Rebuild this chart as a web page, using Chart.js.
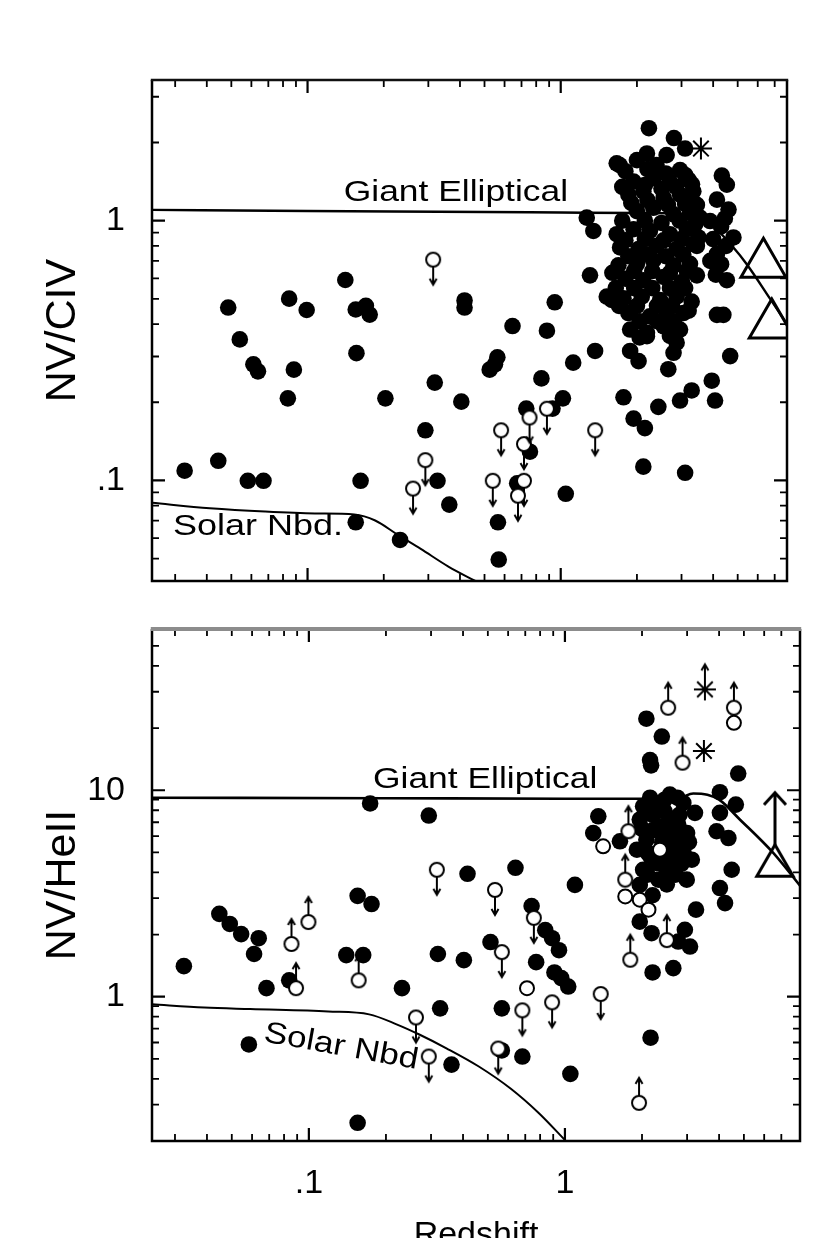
<!DOCTYPE html>
<html>
<head>
<meta charset="utf-8">
<script src="https://cdn.jsdelivr.net/npm/chart.js@4.4.1/dist/chart.umd.min.js"></script>
<style>
  html, body { margin: 0; padding: 0; background: #fff; overflow: hidden; }
  #wrap { position: relative; width: 830px; height: 1238px; overflow: hidden; }
  #c1 { position: absolute; left: 0; top: 0; }
  #c2 { position: absolute; left: 0; top: 610px; }
</style>
</head>
<body>
<div id="wrap">
  <canvas id="c1" width="830" height="610"></canvas>
  <canvas id="c2" width="830" height="660"></canvas>
</div>
<script>
// ---------- top panel : NV/CIV ----------
const topDotsX = [
  0.0327, 0.0444, 0.0581, 0.067, 0.0486, 0.054, 0.0611, 0.0637, 0.0846, 0.0992, 0.0883, 0.0836,
  0.141, 0.155, 0.170, 0.176, 0.156, 0.162, 0.155, 0.232, 0.203, 0.318, 0.292, 0.326, 0.363,
  0.405, 0.417, 0.417, 0.645, 0.524, 0.562, 0.55, 0.565, 0.569, 0.673, 0.756, 0.731, 0.839,
  0.882, 0.947, 0.928, 1.02, 1.047,
  2.23, 2.80, 3.10, 1.71, 2.19, 2.62, 4.33, 4.53, 4.14, 4.60, 3.89, 4.81, 1.267, 1.346, 1.305,
  4.14, 4.53, 4.14, 4.39, 1.59, 1.367, 1.12, 1.88, 2.03, 2.66, 2.79, 4.67, 1.77, 1.94, 2.15,
  2.43, 2.96, 3.29, 3.95, 4.07, 2.12, 3.10,
  1.664, 2.0, 2.39, 2.96, 1.94, 2.32, 2.70, 3.20, 1.85, 2.12, 2.55, 2.96, 3.34,
  2.0, 2.32, 2.79, 3.24, 3.55, 1.664, 1.94, 2.25, 2.70, 3.15, 3.50,
  1.716, 2.03, 2.39, 2.87, 3.34, 1.69, 2.0, 2.32, 2.79, 3.24,
  1.80, 2.12, 2.55, 3.01, 3.45, 1.52, 1.77, 2.09, 2.47, 2.87, 3.29,
  1.85, 2.25, 2.62, 3.05, 1.88, 2.19, 2.55, 2.96, 2.87, 2.19,
  1.80, 2.20, 2.60, 3.10, 1.75, 2.15, 2.50, 2.85, 3.30, 1.90, 2.20, 2.65, 3.10, 3.45,
  1.75, 2.15, 2.50, 2.95, 3.40, 1.80, 2.15, 2.55, 3.00, 3.45, 1.85, 2.20, 2.60, 3.05,
  1.60, 1.95, 2.30, 2.70, 3.15, 1.65, 1.95, 2.30, 2.70, 3.10, 1.70, 2.00, 2.40, 2.75, 3.20,
  2.05, 2.40, 2.80, 2.05, 2.70,
  4.30, 4.50, 4.00, 4.30, 4.10, 3.90, 4.45
];
const topDotsY = [
  0.109, 0.119, 0.0997, 0.0997, 0.463, 0.349, 0.280, 0.263, 0.501, 0.453, 0.267, 0.207,
  0.591, 0.455, 0.47, 0.435, 0.309, 0.0997, 0.069, 0.059, 0.207, 0.238, 0.156, 0.0997, 0.0807,
  0.201, 0.493, 0.463, 0.393, 0.267, 0.298, 0.28, 0.069, 0.0496, 0.0975, 0.129, 0.189, 0.247,
  0.377, 0.485, 0.189, 0.207, 0.0888,
  2.27, 2.08, 1.895, 1.637, 1.814, 1.788, 1.492, 1.375, 1.205, 1.104, 0.997, 0.862, 1.027, 0.913, 0.616,
  0.745, 0.59, 0.434, 0.434, 0.495, 0.315, 0.284, 0.315, 0.288, 0.268, 0.31, 0.301, 0.209, 0.173, 0.159,
  0.192, 0.203, 0.222, 0.242, 0.203, 0.113, 0.107,
  1.662, 1.711, 1.637, 1.567, 1.415, 1.457, 1.415, 1.436, 1.259, 1.297, 1.223, 1.259, 1.297,
  1.088, 1.121, 1.057, 1.073, 1.027, 0.887, 0.927, 0.913, 0.887, 0.927, 0.862,
  0.789, 0.778, 0.801, 0.778, 0.813, 0.673, 0.682, 0.703, 0.673, 0.682,
  0.598, 0.590, 0.607, 0.581, 0.616, 0.51, 0.502, 0.51, 0.495, 0.51, 0.488,
  0.441, 0.428, 0.447, 0.441, 0.381, 0.37, 0.392, 0.381, 0.339, 0.359,
  1.55, 1.58, 1.52, 1.50, 1.35, 1.37, 1.33, 1.35, 1.38, 1.17, 1.20, 1.15, 1.16, 1.15,
  1.00, 1.00, 0.98, 1.00, 0.97, 0.84, 0.85, 0.84, 0.85, 0.80, 0.73, 0.74, 0.73, 0.74,
  0.63, 0.64, 0.64, 0.63, 0.64, 0.55, 0.55, 0.55, 0.55, 0.55, 0.47, 0.47, 0.47, 0.47, 0.45,
  0.41, 0.41, 0.41, 0.355, 0.36,
  0.95, 0.80, 0.85, 0.68, 0.62, 0.70, 1.02
];
// upper limits (open circle, arrow down)
const topUpperX = [0.3135, 0.539, 0.5815, 0.292, 0.261, 0.716, 0.716, 0.678, 0.753, 0.882, 1.368];
const topUpperY = [0.708, 0.0997, 0.156, 0.1197, 0.093, 0.138, 0.0997, 0.0873, 0.1746, 0.1888, 0.156];
const topStarX = [3.58];
const topStarY = [1.895];
const topTriX = [6.32, 6.82];
const topTriY = [0.679, 0.397];
const topGiantX = [0.0243, 0.1, 0.5, 1.0, 2.0, 3.0, 4.0, 4.8, 5.43, 6.72, 7.83];
const topGiantY = [1.10, 1.09, 1.08, 1.075, 1.07, 1.06, 0.95, 0.79, 0.68, 0.50, 0.40];
const topSolarX = [0.0243, 0.0411, 0.0679, 0.107, 0.153, 0.185, 0.227, 0.28, 0.36, 0.46];
const topSolarY = [0.082, 0.0782, 0.0759, 0.0746, 0.0739, 0.0701, 0.0618, 0.0545, 0.0466, 0.041];

// ---------- bottom panel : NV/HeII ----------
const botDotsX = [
  0.0325, 0.0447, 0.0491, 0.0544, 0.0637, 0.0611, 0.0683, 0.0838, 0.0583, 0.155, 0.14, 0.163,
  0.155, 0.1757, 0.1735, 0.294, 0.231, 0.319, 0.3256, 0.3606, 0.4165, 0.403, 0.641, 0.512,
  0.567, 0.567, 0.682, 0.741, 0.772, 0.838, 0.891, 0.948, 0.91, 0.968, 1.03, 1.05, 2.16, 2.20, 2.65,
  2.08, 2.39, 2.15, 2.17, 4.75, 4.03, 4.65, 4.03, 3.91, 4.35, 4.48, 4.03, 4.22, 3.25, 1.094,
  2.57, 2.28, 2.02, 2.90, 3.22, 1.96, 2.35, 2.77, 2.08, 1.91, 2.49, 2.90, 3.13, 2.28, 2.02, 2.57,
  2.99, 2.32, 1.96, 1.96, 2.18, 2.94, 3.08, 2.77, 1.35, 1.29, 1.64, 2.2, 2.6, 2.45, 2.7, 2.15,
  2.15, 2.45, 2.75, 2.10, 2.45, 2.80, 3.00, 2.60, 2.20, 2.00, 2.40, 2.75, 3.05, 2.10, 2.40,
  2.85, 2.45, 2.70, 2.10, 2.50, 2.20
];
const botDotsY = [
  1.406, 2.52, 2.25, 2.01, 1.92, 1.61, 1.10, 1.20, 0.587, 0.245, 1.59, 1.59,
  3.08, 2.81, 8.63, 7.54, 1.10, 1.61, 0.878, 0.469, 3.94, 1.503, 4.21, 1.84,
  0.878, 0.549, 0.513, 2.75, 1.47, 2.1, 1.92, 1.68, 1.31, 1.23, 1.12, 0.423, 0.633, 1.31, 1.375,
  22.2, 18.2, 14.0, 13.2, 12.05, 9.78, 8.52, 7.77, 6.33, 5.87, 4.12, 3.36, 2.84, 2.64, 3.48,
  9.53, 8.68, 8.36, 8.68, 7.77, 7.21, 6.69, 6.82, 5.76, 5.15, 5.35, 5.06, 4.61, 4.44, 4.12, 4.12,
  3.69, 3.69, 3.48, 2.31, 2.03, 2.11, 1.75, 1.85, 7.48, 6.2, 5.66, 7.6, 7.3, 6.0, 4.8, 4.8,
  9.2, 9.0, 9.2, 7.8, 7.9, 7.6, 6.2, 6.3, 6.4, 6.5, 5.6, 5.7, 5.6, 5.0, 4.9,
  4.4, 4.3, 3.9, 3.9, 3.5, 3.1
];
const botUpperX = [0.316, 0.533, 0.567, 0.756, 0.682, 0.891, 1.38, 0.262, 0.294, 0.549];
const botUpperY = [4.12, 3.29, 1.645, 2.41, 0.859, 0.939, 1.03, 0.793, 0.513, 0.561];
const botOpenX = [0.711, 1.41, 1.72, 1.96, 2.12, 2.35, 4.57];
const botOpenY = [1.10, 5.35, 3.06, 2.95, 2.64, 5.15, 21.2];
// lower limits (open circle, arrow up)
const botLowerX = [2.53, 4.57, 2.88, 1.77, 1.72, 2.50, 1.80, 1.947, 0.0996, 0.0855, 0.0891, 0.1565];
const botLowerY = [25.1, 25.1, 13.6, 6.33, 3.69, 1.88, 1.51, 0.306, 2.30, 1.80, 1.10, 1.20];
const botStarX = [3.49];
const botStarY = [15.5];
const botStarLowX = [3.52];
const botStarLowY = [30.8];
const botTriX = [6.61];
const botTriY = [4.31];
const botGiantX = [0.0244, 0.2, 1.0, 2.0, 2.8, 3.17, 3.6, 4.0, 4.83, 6.51, 8.28];
const botGiantY = [9.2, 9.15, 9.1, 9.1, 9.2, 9.64, 9.5, 9.0, 7.2, 4.97, 3.45];
const botSolarX = [0.0244, 0.039, 0.059, 0.119, 0.172, 0.22, 0.27, 0.346, 0.461, 0.615, 0.788, 1.008];
const botSolarY = [0.918, 0.886, 0.871, 0.848, 0.821, 0.735, 0.656, 0.561, 0.459, 0.358, 0.274, 0.2];

// ---------- ticks ----------
const xTicks = [0.03, 0.04, 0.05, 0.06, 0.07, 0.08, 0.09, 0.1, 0.2, 0.3, 0.4, 0.5, 0.6, 0.7, 0.8, 0.9, 1, 2, 3, 4, 5, 6, 7];
const topYTicks = [0.05, 0.06, 0.07, 0.08, 0.09, 0.1, 0.2, 0.3, 0.4, 0.5, 0.6, 0.7, 0.8, 0.9, 1, 2, 3];
const botYTicks = [0.3, 0.4, 0.5, 0.6, 0.7, 0.8, 0.9, 1, 2, 3, 4, 5, 6, 7, 8, 9, 10, 20, 30, 40, 50];
const tickLabels = {0.1: '.1', 1: '1', 10: '10'};

const FONT = "'Liberation Sans', Arial, Helvetica, sans-serif";

const xy = (xs, ys) => xs.map((v, i) => ({x: v, y: ys[i]}));
const isDecade = v => { const l = Math.log10(v); return Math.abs(l - Math.round(l)) < 1e-6; };

// little marker pictures
function limitMark(dir, star) {
  // dir 1 = arrow down, -1 = arrow up
  const c = document.createElement('canvas');
  c.width = 30; c.height = 70;
  const g = c.getContext('2d');
  const cx = 15, cy = 35;
  g.strokeStyle = '#000';
  g.lineWidth = 2;
  let r0 = 7;
  if (star) {
    r0 = 0;
    for (let k = 0; k < 4; k++) {
      const a = k * Math.PI / 4;
      g.beginPath();
      g.moveTo(cx - 11 * Math.cos(a), cy - 11 * Math.sin(a));
      g.lineTo(cx + 11 * Math.cos(a), cy + 11 * Math.sin(a));
      g.stroke();
    }
  } else {
    g.fillStyle = '#fff';
    g.beginPath();
    g.arc(cx, cy, 7, 0, 2 * Math.PI);
    g.fill();
    g.stroke();
  }
  const tip = cy + dir * 25;
  g.beginPath();
  g.moveTo(cx, cy + dir * r0);
  g.lineTo(cx, tip);
  g.stroke();
  g.beginPath();
  g.moveTo(cx - 3.5, tip - dir * 6);
  g.lineTo(cx, tip);
  g.lineTo(cx + 3.5, tip - dir * 6);
  g.stroke();
  return c;
}

function triArrow() {
  const c = document.createElement('canvas');
  c.width = 52; c.height = 160;
  const g = c.getContext('2d');
  const cx = 26, cy = 80, r = 21;
  g.strokeStyle = '#000';
  g.lineWidth = 3;
  g.beginPath();
  g.moveTo(cx, cy - r);
  g.lineTo(cx + r * Math.sin(Math.PI / 3), cy + r / 2);
  g.lineTo(cx - r * Math.sin(Math.PI / 3), cy + r / 2);
  g.closePath();
  g.stroke();
  const tip = cy - r - 52;
  g.beginPath();
  g.moveTo(cx, cy - r);
  g.lineTo(cx, tip);
  g.moveTo(cx - 11, tip + 12);
  g.lineTo(cx, tip);
  g.lineTo(cx + 11, tip + 12);
  g.stroke();
  return c;
}

const downMark = limitMark(1, false);
const upMark = limitMark(-1, false);
const starUpMark = limitMark(-1, true);

function dots(xs, ys) {
  return {data: xy(xs, ys), pointStyle: 'circle', pointRadius: 8.3, backgroundColor: '#000', borderWidth: 0, order: 2};
}
function openDots(xs, ys) {
  return {data: xy(xs, ys), pointStyle: 'circle', pointRadius: 7, backgroundColor: '#fff', borderColor: '#000', borderWidth: 2, order: 1};
}
function marks(xs, ys, img) {
  return {data: xy(xs, ys), pointStyle: img, pointRadius: 10, backgroundColor: '#000', borderColor: '#000', order: 1};
}
function curve(xs, ys, w) {
  return {data: xy(xs, ys), showLine: true, pointRadius: 0, borderColor: '#000', backgroundColor: '#000',
          borderWidth: w, cubicInterpolationMode: 'monotone', order: 5};
}

function framePlugin(topColor, topWidth) {
  return {
    id: 'frame',
    afterDatasetsDraw(chart) {
      const {ctx, chartArea: a, scales: {x, y}} = chart;
      ctx.save();
      ctx.strokeStyle = '#000';
      x.ticks.forEach(t => {
        const p = x.getPixelForValue(t.value);
        const big = isDecade(t.value), len = big ? 13 : 7;
        ctx.lineWidth = big ? 2.2 : 1.8;
        ctx.beginPath();
        ctx.moveTo(p, a.bottom); ctx.lineTo(p, a.bottom - len);
        ctx.moveTo(p, a.top); ctx.lineTo(p, a.top + len);
        ctx.stroke();
      });
      y.ticks.forEach(t => {
        const p = y.getPixelForValue(t.value);
        const big = isDecade(t.value), len = big ? 13 : 7;
        ctx.lineWidth = big ? 2.2 : 1.8;
        ctx.beginPath();
        ctx.moveTo(a.left, p); ctx.lineTo(a.left + len, p);
        ctx.moveTo(a.right, p); ctx.lineTo(a.right - len, p);
        ctx.stroke();
      });
      ctx.lineWidth = 2.5;
      ctx.beginPath();
      ctx.moveTo(a.left, a.top);
      ctx.lineTo(a.left, a.bottom);
      ctx.lineTo(a.right, a.bottom);
      ctx.lineTo(a.right, a.top);
      ctx.stroke();
      ctx.strokeStyle = topColor;
      ctx.lineWidth = topWidth;
      ctx.beginPath();
      ctx.moveTo(a.left - 1.2, a.top);
      ctx.lineTo(a.right + 1.2, a.top);
      ctx.stroke();
      ctx.restore();
    }
  };
}

function notesPlugin(items) {
  return {
    id: 'notes',
    afterDatasetsDraw(chart) {
      const {ctx, scales: {x, y}} = chart;
      items.forEach(it => {
        ctx.save();
        ctx.translate(x.getPixelForValue(it.x), y.getPixelForValue(it.y));
        ctx.rotate((it.angle || 0) * Math.PI / 180);
        ctx.scale(it.stretch, 1);
        ctx.font = it.size + 'px ' + FONT;
        ctx.fillStyle = '#000';
        ctx.textBaseline = 'alphabetic';
        ctx.textAlign = 'left';
        ctx.fillText(it.text, 0, 0);
        ctx.restore();
      });
    }
  };
}

// gap between labels and frame comes from invisible tick marks,
// so it is not added to the chart-area padding
function logAxis(min, max, values, gap, extra) {
  return Object.assign({
    type: 'logarithmic',
    min: min,
    max: max,
    afterBuildTicks: s => { s.ticks = values.map(v => ({value: v})); },
    grid: {display: true, drawOnChartArea: false, drawTicks: true, tickLength: gap, tickColor: 'rgba(0,0,0,0)'},
    border: {display: false},
    ticks: {
      autoSkip: false,
      maxRotation: 0,
      padding: 0,
      color: '#000',
      font: {family: FONT, size: 34, lineHeight: 1},
      callback: v => tickLabels[v] || ''
    }
  }, extra);
}

function panel(id, cfg) {
  const xAxis = logAxis(cfg.xMin, cfg.xMax, xTicks, 26, {afterFit: s => { s.height = cfg.xHeight; }});
  xAxis.ticks.display = cfg.xLabels;
  if (cfg.xTitle) {
    xAxis.title = {display: true, text: cfg.xTitle, color: '#000', font: {family: FONT, size: 34}, padding: {top: 0, bottom: 14}};
  }
  const yAxis = logAxis(cfg.yMin, cfg.yMax, cfg.yTicks, 27, {afterFit: s => { s.width = 152; }});
  yAxis.title = {display: true, text: cfg.yTitle, color: '#000', font: {family: FONT, size: 43}, padding: {top: 37, bottom: 0}};

  return new Chart(document.getElementById(id), {
    type: 'scatter',
    data: {datasets: cfg.datasets},
    options: {
      responsive: false,
      animation: false,
      events: [],
      layout: {padding: cfg.padding},
      plugins: {legend: {display: false}, tooltip: {enabled: false}},
      scales: {x: xAxis, y: yAxis}
    },
    plugins: [framePlugin(cfg.topColor, cfg.topWidth), notesPlugin(cfg.notes)]
  });
}

panel('c1', {
  xMin: 0.0243, xMax: 7.83, yMin: 0.041, yMax: 3.48,
  yTicks: topYTicks, yTitle: 'NV/CIV', xLabels: false, xHeight: 21,
  padding: {left: 0, right: 43, top: 80, bottom: 0},
  topColor: '#111', topWidth: 2.5,
  datasets: [
    curve(topGiantX, topGiantY, 2.4),
    curve(topSolarX, topSolarY, 2),
    dots(topDotsX, topDotsY),
    marks(topUpperX, topUpperY, downMark),
    {data: xy(topStarX, topStarY), pointStyle: 'star', pointRadius: 11, borderColor: '#000', borderWidth: 2, order: 1},
    {data: xy(topTriX, topTriY), pointStyle: 'triangle', pointRadius: 26, backgroundColor: 'rgba(0,0,0,0)', borderColor: '#000', borderWidth: 3, order: 1}
  ],
  notes: [
    {text: 'Giant Elliptical', x: 0.139, y: 1.19, size: 29.5, stretch: 1.2},
    {text: 'Solar Nbd.', x: 0.0294, y: 0.0618, size: 30, stretch: 1.2}
  ]
});

panel('c2', {
  xMin: 0.0244, xMax: 8.28, yMin: 0.2, yMax: 60.4,
  yTicks: botYTicks, yTitle: 'NV/HeII', xLabels: true, xHeight: 129, xTitle: 'Redshift',
  padding: {left: 0, right: 30, top: 19, bottom: 0},
  topColor: '#8c8c8c', topWidth: 4,
  datasets: [
    curve(botGiantX, botGiantY, 2.6),
    curve(botSolarX, botSolarY, 2),
    dots(botDotsX, botDotsY),
    marks(botUpperX, botUpperY, downMark),
    marks(botLowerX, botLowerY, upMark),
    openDots(botOpenX, botOpenY),
    {data: xy(botStarX, botStarY), pointStyle: 'star', pointRadius: 11, borderColor: '#000', borderWidth: 2, order: 1},
    marks(botStarLowX, botStarLowY, starUpMark),
    marks(botTriX, botTriY, triArrow())
  ],
  notes: [
    {text: 'Giant Elliptical', x: 0.178, y: 10.3, size: 29.5, stretch: 1.2},
    {text: 'Solar Nbd', x: 0.0661, y: 0.609, size: 30, stretch: 1.17, angle: 10.3}
  ]
});
</script>
</body>
</html>
